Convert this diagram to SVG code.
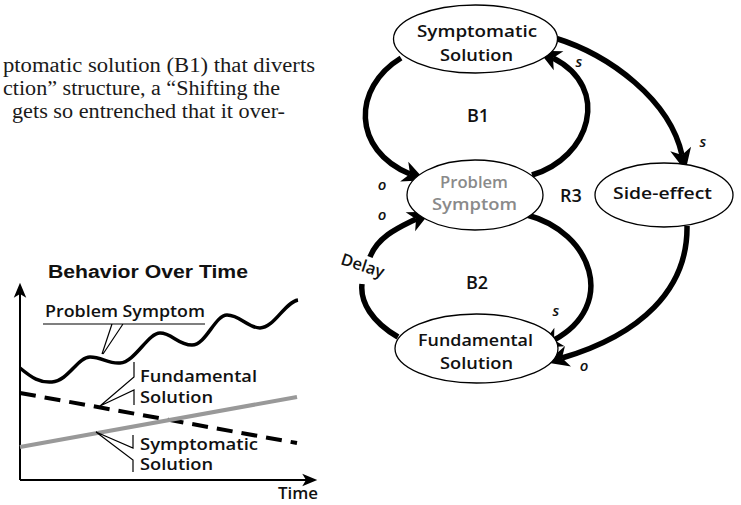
<svg xmlns="http://www.w3.org/2000/svg" width="741" height="505" viewBox="0 0 741 505">
  <style>
    .prose { font-family: "Liberation Serif", "Times New Roman", serif; font-size: 20.5px; fill: #1a1a1a; }
    .node { fill: #fff; stroke: #000; stroke-width: 1.3; }
    .lbl { font-family: "Open Sans", "Noto Sans", sans-serif; font-weight: 600; font-size: 16.5px; fill: #111; text-anchor: middle; }
    .grey { fill: #8a8a8a; }
    .loop { font-family: "Open Sans", "Noto Sans", sans-serif; font-weight: 600; font-size: 18px; fill: #111; text-anchor: middle; }
    .pol { font-family: "Open Sans", "Noto Sans", sans-serif; font-weight: 600; font-size: 15px; font-style: italic; fill: #111; text-anchor: middle; }
    .link { fill: none; stroke: #000; stroke-width: 5.5; marker-end: url(#arr); }
    .thin { fill: none; stroke: #000; stroke-width: 1.2; }
    .axis { fill: none; stroke: #000; stroke-width: 2; marker-end: url(#axarr); }
    .chartlbl { font-family: "Open Sans", "Noto Sans", sans-serif; font-weight: 600; font-size: 16px; fill: #111; }
  </style>
  <defs>
    <marker id="arr" markerUnits="userSpaceOnUse" markerWidth="30" markerHeight="30" viewBox="-2 -12 24 24" refX="5" refY="0" orient="auto">
      <path d="M18,0 L0,-8.5 L5,0 L0,8.5 Z" fill="#000"/>
    </marker>
    <marker id="axarr" markerUnits="userSpaceOnUse" markerWidth="20" markerHeight="20" viewBox="-2 -8 16 16" refX="3" refY="0" orient="auto">
      <path d="M12,0 L0,-5 L3,0 L0,5 Z" fill="#000"/>
    </marker>
  </defs>

  <!-- running text beside the figure -->
  <g id="prose">
    <text class="prose" x="3" y="72" textLength="312" lengthAdjust="spacingAndGlyphs">ptomatic solution (B1) that diverts</text>
    <text class="prose" x="3" y="95" textLength="277" lengthAdjust="spacingAndGlyphs">ction” structure, a “Shifting the</text>
    <text class="prose" x="12" y="118" textLength="273" lengthAdjust="spacingAndGlyphs">gets so entrenched that it over-</text>
  </g>

  <!-- causal links -->
  <g id="connectors">
    <path class="link" d="M401,58 C352,88 352,150 410,174"/>
    <path class="link" d="M532,175 C590,158 612,88 553,58"/>
    <path class="link" d="M555,38 C610,55 670,100 682,155"/>
    <path class="link" d="M527,215 C592,232 618,305 554,340"/>
    <path class="link" d="M398,337 C372,322 360,302 362,284 M370,257 C378,236 400,227 416,219"/>
    <path class="link" d="M687,226 C688,290 640,335 562,358"/>
  </g>

  <g id="symptomatic-solution">
    <ellipse class="node" cx="475.5" cy="39" rx="82" ry="34"/>
    <text class="lbl" x="477" y="37" textLength="120" lengthAdjust="spacingAndGlyphs">Symptomatic</text>
    <text class="lbl" x="476.5" y="61" textLength="73" lengthAdjust="spacingAndGlyphs">Solution</text>
  </g>

  <g id="problem-symptom">
    <ellipse class="node" cx="475" cy="195" rx="68" ry="35"/>
    <text class="lbl grey" x="474" y="188" textLength="68" lengthAdjust="spacingAndGlyphs">Problem</text>
    <text class="lbl grey" x="474.5" y="210" textLength="85" lengthAdjust="spacingAndGlyphs">Symptom</text>
  </g>

  <g id="side-effect">
    <ellipse class="node" cx="664" cy="195" rx="69" ry="32"/>
    <text class="lbl" x="662.5" y="199" textLength="99" lengthAdjust="spacingAndGlyphs">Side-effect</text>
  </g>

  <g id="fundamental-solution">
    <ellipse class="node" cx="476.5" cy="348.5" rx="81.5" ry="34.5"/>
    <text class="lbl" x="475.5" y="346" textLength="115" lengthAdjust="spacingAndGlyphs">Fundamental</text>
    <text class="lbl" x="476.5" y="369" textLength="73" lengthAdjust="spacingAndGlyphs">Solution</text>
  </g>

  <!-- loop and polarity labels -->
  <g id="loop-labels">
    <text class="loop" x="478" y="122">B1</text>
    <text class="loop" x="571" y="202">R3</text>
    <text class="loop" x="477" y="289">B2</text>
    <text class="lbl" x="0" y="0" font-size="15" transform="translate(361,271) rotate(18)">Delay</text>
  </g>
  <g id="polarities">
    <text class="pol" x="382" y="190">o</text>
    <text class="pol" x="382" y="220">o</text>
    <text class="pol" x="579" y="67">s</text>
    <text class="pol" x="703" y="147">s</text>
    <text class="pol" x="556" y="316">s</text>
    <text class="pol" x="584" y="371">o</text>
  </g>

  <!-- behaviour-over-time sketch -->
  <g id="behavior-chart">
    <text x="148" y="278" text-anchor="middle" font-family="'Liberation Sans', Arial, sans-serif" font-weight="bold" font-size="18" fill="#111" textLength="200" lengthAdjust="spacingAndGlyphs">Behavior Over Time</text>
    <path class="axis" d="M20,480 L20,294"/>
    <path class="axis" d="M20,480 L306,480"/>
    <text class="chartlbl" x="278" y="499" textLength="40" lengthAdjust="spacingAndGlyphs">Time</text>

    <path d="M20,393 L297,443" fill="none" stroke="#000" stroke-width="4" stroke-dasharray="16 9"/>
    <path d="M20,447 L297,397" fill="none" stroke="#999" stroke-width="4"/>
    <path d="M20,368 C32,378 40,383 52,382 C68,381 78,357 90,357 C102,357 108,364 120,363 C135,362 148,333 160,333 C172,333 178,345 192,345 C206,345 215,315 227,315 C240,315 248,328 260,328 C274,328 285,302 298,300" fill="none" stroke="#000" stroke-width="3.5"/>

    <text class="chartlbl" x="45" y="317" textLength="160" lengthAdjust="spacingAndGlyphs">Problem Symptom</text>
    <path class="thin" d="M43,324 L205,324 M112,324 L102,354 M123,324 L103,354"/>

    <text class="chartlbl" x="140" y="382" textLength="117" lengthAdjust="spacingAndGlyphs">Fundamental</text>
    <text class="chartlbl" x="140" y="403" textLength="73" lengthAdjust="spacingAndGlyphs">Solution</text>
    <path class="thin" d="M134,362 L134,377 L100,406 L134,390 L134,405"/>

    <text class="chartlbl" x="140" y="450" textLength="118" lengthAdjust="spacingAndGlyphs">Symptomatic</text>
    <text class="chartlbl" x="140" y="470" textLength="73" lengthAdjust="spacingAndGlyphs">Solution</text>
    <path class="thin" d="M133,435 L133,448 L96,432 L133,460 L133,472"/>
  </g>
</svg>
